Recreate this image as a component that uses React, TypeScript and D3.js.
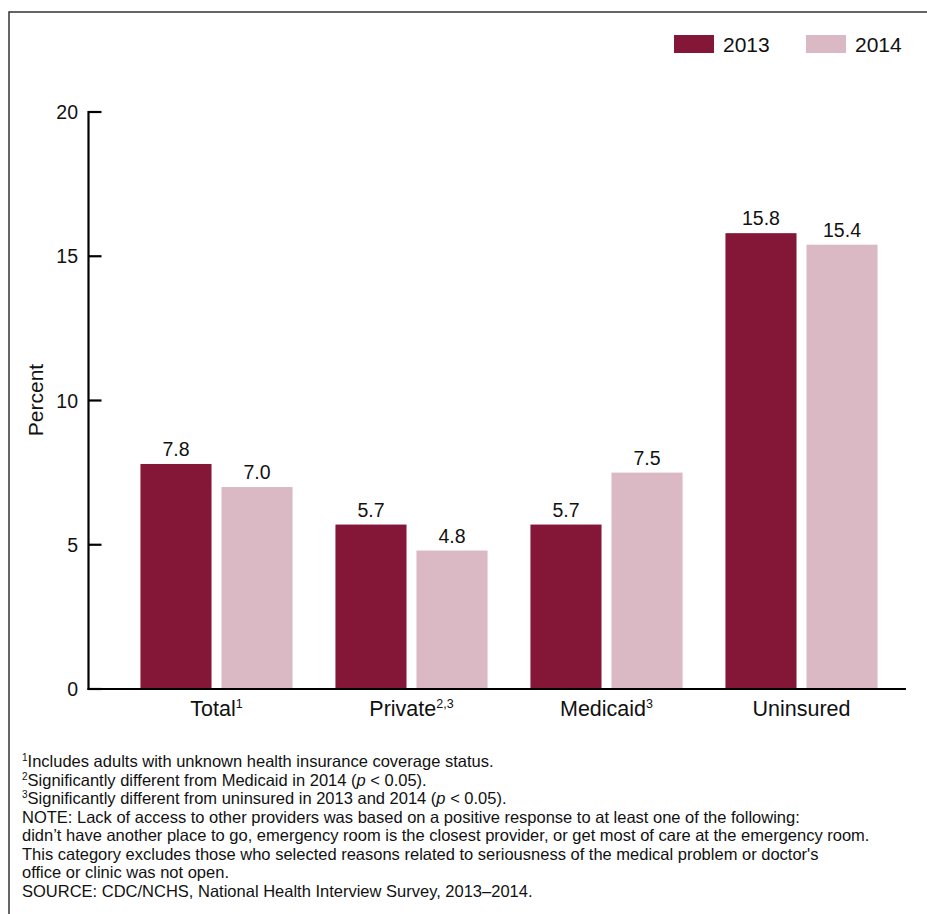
import React from "react";
import * as d3 from "d3";

// Percent of adults whose most recent ED visit was due to lack of access to other providers
const categories = ["Total", "Private", "Medicaid", "Uninsured"];
const categorySup = ["1", "2,3", "3", ""];
const seriesNames = ["2013", "2014"];
const values2013 = [7.8, 5.7, 5.7, 15.8];
const values2014 = [7.0, 4.8, 7.5, 15.4];
const yTicks = [0, 5, 10, 15, 20];

const footnotes: { sup?: string; parts: { t: string; italic?: boolean }[] }[] = [
  { sup: "1", parts: [{ t: "Includes adults with unknown health insurance coverage status." }] },
  {
    sup: "2",
    parts: [
      { t: "Significantly different from Medicaid in 2014 (" },
      { t: "p", italic: true },
      { t: " < 0.05)." },
    ],
  },
  {
    sup: "3",
    parts: [
      { t: "Significantly different from uninsured in 2013 and 2014 (" },
      { t: "p", italic: true },
      { t: " < 0.05)." },
    ],
  },
  { parts: [{ t: "NOTE: Lack of access to other providers was based on a positive response to at least one of the following:" }] },
  { parts: [{ t: "didn\u2019t have another place to go, emergency room is the closest provider, or get most of care at the emergency room." }] },
  { parts: [{ t: "This category excludes those who selected reasons related to seriousness of the medical problem or doctor's" }] },
  { parts: [{ t: "office or clinic was not open." }] },
  { parts: [{ t: "SOURCE: CDC/NCHS, National Health Interview Survey, 2013\u20132014." }] },
];

const colors = ["#841638", "#dab8c4"];
const FONT = "'Liberation Sans', Arial, Helvetica, sans-serif";
const INK = "#111";

export default function App() {
  const width = 927;
  const height = 914;
  const axisX = 88.5;
  const axisRight = 906;

  const y = d3.scaleLinear().domain([0, 20]).range([689, 112]);
  const x = d3
    .scaleBand<string>()
    .domain(categories)
    .range([119, 899])
    .paddingInner(0.22)
    .paddingOuter(0.11);
  const xs = d3
    .scaleBand<string>()
    .domain(seriesNames)
    .range([0, x.bandwidth()])
    .paddingInner(0.123);

  const series = [values2013, values2014];

  return (
    <svg
      width={width}
      height={height}
      style={{ position: "absolute", left: 0, top: 0, background: "#fff" }}
      fontFamily={FONT}
    >
      <rect x={0} y={0} width={width} height={height} fill="#fff" />
      {/* outer frame */}
      <rect x={9} y={12} width={width + 20} height={height + 20} fill="none" stroke="#333" strokeWidth={1.5} />

      {/* legend */}
      {seriesNames.map((s, i) => {
        const lx = 674 + i * 132;
        return (
          <g key={s}>
            <rect x={lx} y={35} width={40} height={18} fill={colors[i]} />
            <text x={lx + 49} y={51.5} fontSize={21} fill={INK}>
              {s}
            </text>
          </g>
        );
      })}

      {/* bars */}
      {categories.map((c, ci) => (
        <g key={c} transform={`translate(${x(c)},0)`}>
          {seriesNames.map((s, si) => {
            const v = series[si][ci];
            const bx = xs(s)!;
            return (
              <g key={s}>
                <rect x={bx} y={y(v)} width={xs.bandwidth()} height={y(0) - y(v)} fill={colors[si]} />
                <text
                  x={bx + xs.bandwidth() / 2}
                  y={y(v) - 8}
                  textAnchor="middle"
                  fontSize={19.5}
                  fill={INK}
                >
                  {v.toFixed(1)}
                </text>
              </g>
            );
          })}
        </g>
      ))}

      {/* y axis */}
      <line x1={axisX} x2={axisX} y1={y(20) - 1} y2={y(0) + 1} stroke="#000" strokeWidth={2.2} />
      {yTicks.map((t) => (
        <g key={t}>
          <line x1={axisX} x2={axisX + 13} y1={y(t)} y2={y(t)} stroke="#000" strokeWidth={2.2} />
          <text x={78} y={y(t) + 7} textAnchor="end" fontSize={19.5} fill={INK}>
            {t}
          </text>
        </g>
      ))}
      <text
        transform={`translate(43,400) rotate(-90)`}
        textAnchor="middle"
        fontSize={21}
        fill={INK}
      >
        Percent
      </text>

      {/* x axis */}
      <line x1={axisX - 1} x2={axisRight} y1={y(0)} y2={y(0)} stroke="#000" strokeWidth={2.2} />
      {categories.map((c, ci) => (
        <text
          key={c}
          x={x(c)! + x.bandwidth() / 2}
          y={715.5}
          textAnchor="middle"
          fontSize={21.5}
          fill={INK}
        >
          {c}
          {categorySup[ci] && (
            <tspan fontSize={12.5} dy={-8}>
              {categorySup[ci]}
            </tspan>
          )}
        </text>
      ))}

      {/* footnotes */}
      {footnotes.map((f, i) => (
        <text key={i} x={22} y={767 + i * 18.5} fontSize={16.5} fill={INK}>
          {f.sup && (
            <tspan fontSize={10} dy={-6}>
              {f.sup}
            </tspan>
          )}
          {f.parts.map((p, j) => (
            <tspan key={j} fontStyle={p.italic ? "italic" : undefined} dy={f.sup && j === 0 ? 6 : undefined}>
              {p.t}
            </tspan>
          ))}
        </text>
      ))}
    </svg>
  );
}
